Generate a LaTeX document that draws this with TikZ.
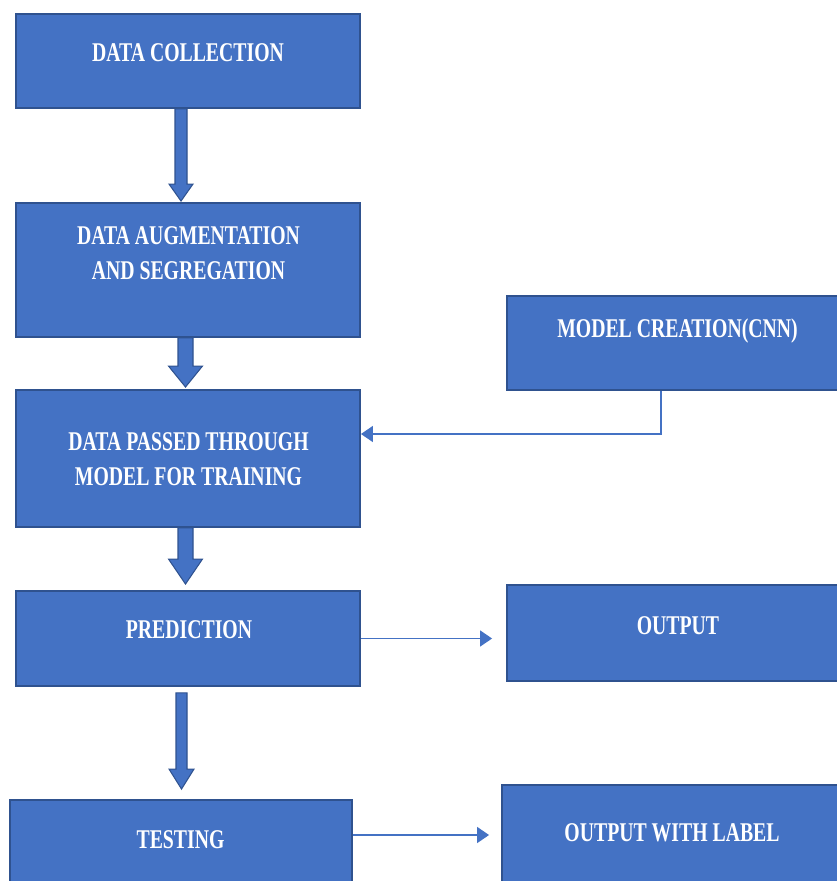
\documentclass[tikz,border=0pt]{standalone}
\usepackage{fontspec}
\newfontfamily\boxfont[FakeStretch=0.73]{Liberation Serif}
\usetikzlibrary{arrows.meta,calc}

\definecolor{boxblue}{HTML}{4472C4}
\definecolor{boxedge}{HTML}{2F528F}

\tikzset{
  stage/.style={draw=boxedge, fill=boxblue, line width=1.1pt, minimum width=6.88cm},
  stagetext/.style={text=white, align=center, inner sep=0pt,
    font=\boxfont\bfseries\fontsize{15.4pt}{19.9pt}\selectfont},
  flow/.style={boxblue, line width=0.85pt, -{Triangle[length=0.24cm, width=0.32cm]}},
  blockarrow/.style n args={3}{fill=boxblue, draw=boxedge, line width=0.6pt,
    to path={let \p1=(\tikztostart), \p2=(\tikztotarget) in
      (\x1-#1,\y1) -- (\x1+#1,\y1) -- (\x1+#1,\y2+#3) -- (\x1+#2,\y2+#3)
      -- (\x1,\y2) -- (\x1-#2,\y2+#3) -- (\x1-#1,\y2+#3) -- cycle}}
}

\begin{document}
\begin{tikzpicture}[x=0.02cm, y=-0.02cm]
    \useasboundingbox (0,0) rectangle (837,881);

        % Boxes of the main column
    \node[stage, minimum height=1.88cm] (collect) at (188,61) {};
    \node[stage, minimum height=2.68cm] (augment) at (188,270) {};
    \node[stage, minimum height=2.74cm] (train) at (188,458.5) {};
    \node[stage, minimum height=1.9cm] (predict) at (188,638.5) {};
    \node[stage, minimum width=6.84cm, minimum height=1.8cm] (test) at (181,845) {};

        % Boxes on the right
    \node[stage, minimum width=6.8cm, minimum height=1.88cm] (model) at (677,343) {};
    \node[stage, minimum width=6.8cm, minimum height=1.92cm] (output) at (677,633) {};
    \node[stage, minimum width=6.9cm, minimum height=2.1cm] (labelled) at (674.5,837.5) {};

        % Box texts
    \node[stagetext] (collecttext) at (188,53) {DATA COLLECTION};
    \node[stagetext] (augmenttext) at (188.5,253.5) {DATA AUGMENTATION\\AND SEGREGATION};
    \node[stagetext] (traintext) at (188.5,459) {DATA PASSED THROUGH\\MODEL FOR TRAINING};
    \node[stagetext] (predicttext) at (189,630) {PREDICTION};
    \node[stagetext] (testtext) at (180.5,840) {TESTING};
    \node[stagetext] (modeltext) at (677.5,331) {MODEL CREATION(CNN)};
    \node[stagetext] (outputtext) at (678,626) {OUTPUT};
    \node[stagetext] (labelledtext) at (672,833) {OUTPUT WITH LABEL};

        % Block arrows down the column
    \draw[blockarrow={0.12cm}{0.24cm}{0.34cm}] ([xshift=-0.14cm]collect.south) to ([xshift=-0.14cm, yshift=0.02cm]augment.north);
    \draw[blockarrow={0.15cm}{0.34cm}{0.42cm}] ([xshift=-0.05cm]augment.south) to ([xshift=-0.05cm, yshift=0.04cm]train.north);
    \draw[blockarrow={0.15cm}{0.34cm}{0.5cm}] ([xshift=-0.05cm]train.south) to ([xshift=-0.05cm, yshift=0.12cm]predict.north);
    \draw[blockarrow={0.11cm}{0.25cm}{0.4cm}] ([xshift=-0.13cm, yshift=-0.12cm]predict.south) to ([xshift=-0.13cm, yshift=0.2cm]test.north);

        % Thin connectors
    \draw[flow] ([xshift=-0.32cm]model.south) |- ([yshift=0.49cm]train.east);
    \draw[flow, shorten >=0.28cm] (predict.east) -- (predict.east -| output.west);
    \draw[flow, shorten >=0.24cm] ([yshift=0.2cm]test.east) -- ([yshift=0.2cm]test.east -| labelled.west);
\end{tikzpicture}
\end{document}
